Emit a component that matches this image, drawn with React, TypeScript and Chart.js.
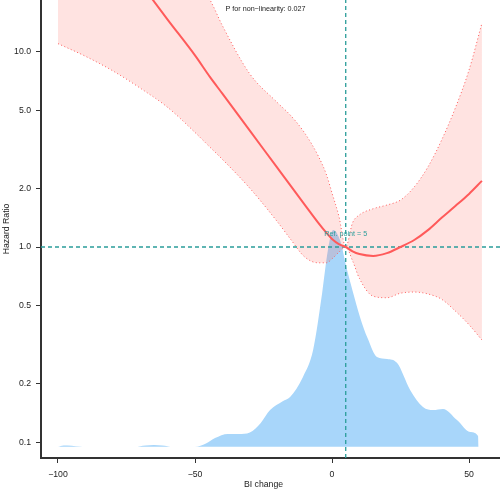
import { useEffect, useRef } from 'react';
import { Chart, registerables } from 'chart.js';

Chart.register(...registerables);

const FONT = "'Liberation Sans', Arial, Helvetica, sans-serif";
const TEAL = '#2A9D9A';
const RED = '#FF5A5A';

// axis settings
const xRange = [-106.2, 61.3];
const yRange = [0.0831, 18.4];
const xTicks = [-100, -50, 0, 50];
const yTicks = [0.1, 0.2, 0.5, 1, 2, 5, 10];

// reference point
const refX = 5;
const refY = 1;
const refLabel = 'Ref. point = 5';
const pText = 'P for non\u2212linearity: 0.027';

// spline fit (BI change -> Hazard Ratio)
const biChange = [-100, -90, -80, -70, -60, -50, -44.5, -40, -30, -20, -15, -10, -5, -2, 0, 2.5, 5, 7.5, 10, 15, 20, 25, 30, 35, 40, 45, 50, 54.7];
const hazard = [83, 53.8, 34.9, 22.5, 14.6, 9.57, 7.41, 6.1, 3.94, 2.55, 2.05, 1.65, 1.33, 1.18, 1.1, 1.035, 1.0, 0.95, 0.92, 0.90, 0.93, 1.0, 1.086, 1.22, 1.41, 1.62, 1.87, 2.18];
const upperCI = [300, 200, 110, 60, 38, 24, 18.4, 13.6, 7.7, 5.5, 4.7, 3.84, 2.92, 2.34, 1.89, 1.44, 1.0, 1.33, 1.46, 1.57, 1.64, 1.74, 2.03, 2.57, 3.53, 5.15, 8.06, 14.0];
const lowerCI = [11.0, 9.48, 7.98, 6.51, 5.19, 3.86, 3.24, 2.81, 2.0, 1.35, 1.09, 0.89, 0.83, 0.83, 0.87, 0.94, 1.0, 0.85, 0.69, 0.56, 0.55, 0.58, 0.588, 0.575, 0.54, 0.47, 0.40, 0.334];

// distribution of BI change (relative density, peak = 1)
const densX = [-100, -98, -95, -92, -90, -72, -68, -65, -62, -58, -50, -46, -42.7, -38, -34, -30, -26, -22.6, -18, -15.3, -10.6, -6.9, -3.6, -1.5, 0.4, 3, 5.5, 7.5, 10.2, 13, 16.4, 20.1, 23.7, 28.5, 33.2, 36.9, 40.5, 45.6, 50.4, 53.3, 53.5];
const densY = [0, 0.006, 0.005, 0.001, 0, 0, 0.006, 0.008, 0.006, 0, 0, 0.015, 0.04, 0.059, 0.059, 0.066, 0.11, 0.169, 0.21, 0.229, 0.322, 0.446, 0.709, 0.908, 1.0, 0.95, 0.815, 0.72, 0.599, 0.5, 0.414, 0.405, 0.387, 0.262, 0.183, 0.169, 0.174, 0.123, 0.068, 0.049, 0];
const densRange = [-0.052, 2.061];

const pts = (xs: number[], ys: number[]) => xs.map((x, i) => ({ x, y: ys[i] }));
const fmtX = (v: number) => (v < 0 ? '\u2212' + Math.abs(v) : String(v));

const textPlugin = {
  id: 'texts',
  afterDatasetsDraw(chart: any) {
    const { ctx } = chart;
    const xs = chart.scales.x;
    const ys = chart.scales.y;
    const cx = (xs.getPixelForValue(xTicks[0]) + xs.getPixelForValue(xTicks[xTicks.length - 1])) / 2;
    ctx.save();
    ctx.textAlign = 'center';
    ctx.textBaseline = 'middle';
    ctx.font = `7.2px ${FONT}`;
    ctx.fillStyle = '#222';
    ctx.fillText(pText, cx + 2, chart.chartArea.top + 9.5);
    ctx.fillStyle = TEAL;
    ctx.fillText(refLabel, xs.getPixelForValue(refX), ys.getPixelForValue(refY) - 13);
    ctx.font = `8.7px ${FONT}`;
    ctx.fillStyle = '#222';
    ctx.fillText('BI change', cx, chart.height - 6);
    ctx.restore();
  },
};

export default function App() {
  const ref = useRef<HTMLCanvasElement>(null);
  useEffect(() => {
    if (!ref.current) return;
    const chart = new Chart(ref.current, {
      type: 'line',
      data: {
        datasets: [
          {
            label: 'HR',
            data: pts(biChange, hazard),
            borderColor: RED,
            borderWidth: 2,
            pointRadius: 0,
            cubicInterpolationMode: 'monotone',
            fill: false,
            yAxisID: 'y',
            order: 0,
          },
          {
            label: 'upper',
            data: pts(biChange, upperCI),
            borderColor: RED,
            borderWidth: 1,
            borderDash: [1, 2.5],
            pointRadius: 0,
            cubicInterpolationMode: 'monotone',
            fill: '+1',
            backgroundColor: 'rgba(255,100,90,0.18)',
            yAxisID: 'y',
            order: 2,
          },
          {
            label: 'lower',
            data: pts(biChange, lowerCI),
            borderColor: RED,
            borderWidth: 1,
            borderDash: [1, 2.5],
            pointRadius: 0,
            cubicInterpolationMode: 'monotone',
            fill: false,
            yAxisID: 'y',
            order: 2,
          },
          {
            label: 'density',
            data: pts(densX, densY),
            borderColor: 'rgba(0,0,0,0)',
            borderWidth: 0,
            pointRadius: 0,
            cubicInterpolationMode: 'monotone',
            fill: 'origin',
            backgroundColor: 'rgb(168,214,250)',
            yAxisID: 'y2',
            order: 3,
          },
          {
            label: 'hRef',
            data: [{ x: xRange[0], y: refY }, { x: xRange[1], y: refY }],
            borderColor: TEAL,
            borderWidth: 1.3,
            borderDash: [4, 3],
            pointRadius: 0,
            fill: false,
            yAxisID: 'y',
            order: 1,
          },
          {
            label: 'vRef',
            data: [{ x: refX, y: yRange[0] }, { x: refX, y: yRange[1] }],
            borderColor: TEAL,
            borderWidth: 1.3,
            borderDash: [4, 3],
            pointRadius: 0,
            fill: false,
            yAxisID: 'y',
            order: 1,
          },
        ],
      },
      options: {
        animation: false,
        responsive: false,
        devicePixelRatio: 1,
        events: [],
        layout: { padding: 0 },
        plugins: { legend: { display: false }, tooltip: { enabled: false } },
        scales: {
          x: {
            type: 'linear',
            min: xRange[0],
            max: xRange[1],
            afterFit: (s: any) => { s.height = 33; s.paddingLeft = 0; s.paddingRight = 0; s.paddingTop = 0; s.paddingBottom = 0; },
            afterBuildTicks: (s: any) => { s.ticks = xTicks.map((v) => ({ value: v })); },
            ticks: {
              autoSkip: false,
              maxRotation: 0,
              padding: 6,
              color: '#222',
              font: { family: FONT, size: 8.7 },
              callback: (v: any) => fmtX(Number(v)),
            },
            grid: { display: true, drawOnChartArea: false, drawTicks: true, tickLength: 5, tickColor: '#333', tickWidth: 1 },
            border: { display: true, color: '#333', width: 2 },
          },
          y: {
            type: 'logarithmic',
            min: yRange[0],
            max: yRange[1],
            afterFit: (s: any) => { s.width = 41; s.paddingLeft = 0; s.paddingRight = 0; s.paddingTop = 0; s.paddingBottom = 0; },
            afterBuildTicks: (s: any) => { s.ticks = yTicks.map((v) => ({ value: v })); },
            ticks: {
              autoSkip: false,
              padding: 5,
              color: '#222',
              font: { family: FONT, size: 8.7 },
              callback: (v: any) => Number(v).toFixed(1),
            },
            title: { display: true, text: 'Hazard Ratio', color: '#222', font: { family: FONT, size: 8.7 }, padding: { top: 1, bottom: 0 } },
            grid: { display: true, drawOnChartArea: false, drawTicks: true, tickLength: 5, tickColor: '#333', tickWidth: 1 },
            border: { display: true, color: '#333', width: 2 },
          },
          y2: {
            type: 'linear',
            display: false,
            min: densRange[0],
            max: densRange[1],
          },
        },
      },
      plugins: [textPlugin],
    } as any);
    return () => chart.destroy();
  }, []);
  return (
    <div style={{ position: 'fixed', left: 0, top: 0, width: 500, height: 491, background: '#fff' }}>
      <canvas ref={ref} width={500} height={491} style={{ width: 500, height: 491, display: 'block' }} />
    </div>
  );
}
